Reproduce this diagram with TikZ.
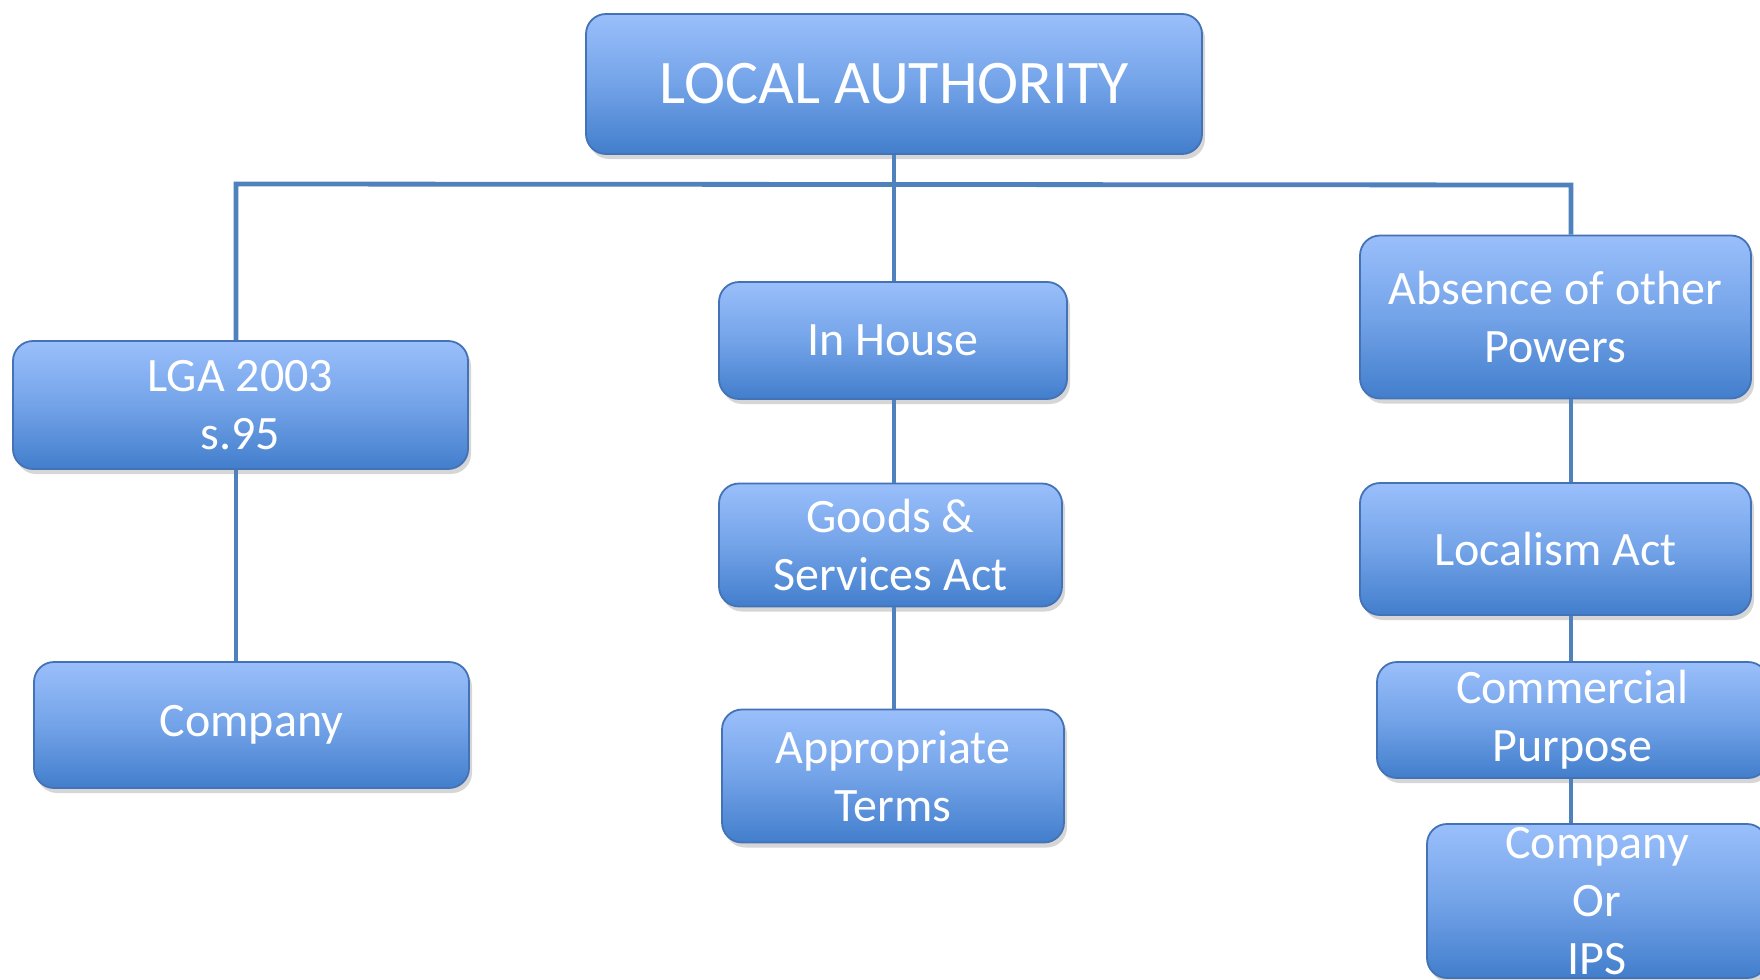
\documentclass[tikz,border=0pt]{standalone}
\usepackage{fontspec}
\setmainfont{Carlito}
\usetikzlibrary{shadows}
\definecolor{boxtop}{RGB}{154,191,251}
\definecolor{boxmid}{RGB}{115,163,232}
\definecolor{boxbot}{RGB}{66,126,204}
\definecolor{boxline}{RGB}{68,114,182}
\definecolor{conn}{RGB}{79,129,189}
\tikzset{
  box/.style={rectangle, rounded corners=10pt, draw=boxline, line width=0.9pt,
    top color=boxtop, bottom color=boxbot, middle color=boxmid,
    text=white, align=center, inner sep=0pt,
    font=\fontsize{24}{29}\selectfont,
    drop shadow={shadow xshift=1.5pt, shadow yshift=-2.5pt, opacity=0.35, fill=black!45}},
  bigbox/.style={box, font=\fontsize{31}{37}\selectfont},
  connector/.style={draw=conn, line width=2.4pt}
}
\begin{document}
\begin{tikzpicture}[x=0.5pt, y=-0.5pt]
\useasboundingbox (0,0) rectangle (1760,979);
\fill[white] (0,0) rectangle (1760,979);
% nodes
\node[bigbox, minimum width=308pt, minimum height=70pt] (la) at (894,84) {LOCAL AUTHORITY};
\node[box, minimum width=227.5pt, minimum height=64pt] (lga) at (240.5,405) {LGA 2003\\s.95};
\node[box, minimum width=217.5pt, minimum height=63pt] (comp) at (251.5,725) {Company};
\node[box, minimum width=174pt, minimum height=58.5pt] (inh) at (893,340.5) {In House};
\node[box, minimum width=171.5pt, minimum height=61.5pt] (goods) at (890.5,545) {Goods \&\\Services Act};
\node[box, minimum width=171pt, minimum height=66.5pt] (appr) at (893,776) {Appropriate\\Terms};
\node[box, minimum width=195.5pt, minimum height=81.5pt] (abs) at (1555.5,317) {Absence of other\\Powers};
\node[box, minimum width=195.5pt, minimum height=66pt] (loc) at (1555.5,549) {Localism Act};
\node[box, minimum width=195.5pt, minimum height=58pt] (comm) at (1572.5,720) {Commercial\\Purpose};
\node[box, minimum width=170pt, minimum height=77pt] (cips) at (1597,901) {Company\\Or\\IPS};
% bus coordinates
\coordinate (busL) at (236,184);
\coordinate (busR) at (1571,185);
\coordinate (busM) at (894,184);
% connectors
\draw[connector] (la.south) -- (la.south |- inh.north);
\draw[connector] (busL |- lga.north) -- (busL) -- (busR) -- (busR |- abs.north);
\draw[connector] (busL |- lga.south) -- (busL |- comp.north);
\draw[connector] (busM |- inh.south) -- (busM |- goods.north);
\draw[connector] (busM |- goods.south) -- (busM |- appr.north);
\draw[connector] (busR |- abs.south) -- (busR |- loc.north);
\draw[connector] (busR |- loc.south) -- (busR |- comm.north);
\draw[connector] (busR |- comm.south) -- (busR |- cips.north);
\end{tikzpicture}
\end{document}
